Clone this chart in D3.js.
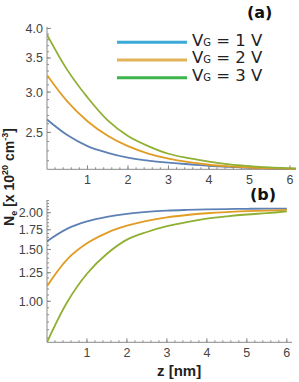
<!DOCTYPE html>
<html>
<head>
<meta charset="utf-8">
<script src="https://cdn.jsdelivr.net/npm/d3@7"></script>
<style>
  body { margin: 0; background: #fff; }
  svg { display: block; }
  .tick-label { font-family: "Liberation Sans", Arial, sans-serif; font-size: 12.5px; fill: #444; }
  .bold { font-family: "Liberation Sans", Arial, sans-serif; font-weight: bold; fill: #222; }
  .panel { font-family: "DejaVu Sans", sans-serif; font-weight: bold; font-size: 16px; fill: #111; }
  .legend { font-family: "DejaVu Sans", sans-serif; font-size: 16.5px; fill: #222; }
</style>
</head>
<body>
<svg id="chart" width="299" height="382"></svg>
<script>
// data
const zTop = [0, 0.5, 1, 1.5, 2, 2.5, 3, 3.5, 4, 4.5, 5, 5.5, 6, 6.15];
const topV1 = [2.65, 2.47, 2.35, 2.28, 2.23, 2.20, 2.18, 2.165, 2.15, 2.14, 2.13, 2.125, 2.12, 2.118];
const topV2 = [3.24, 2.876, 2.63, 2.462, 2.349, 2.272, 2.22, 2.185, 2.16, 2.144, 2.133, 2.126, 2.121, 2.12];
const topV3 = [3.89, 3.317, 2.929, 2.64, 2.46, 2.35, 2.27, 2.225, 2.19, 2.164, 2.147, 2.135, 2.127, 2.125];

const zBottom = [0, 0.5, 1, 1.5, 2, 2.5, 3, 3.5, 4, 4.5, 5, 5.5, 6];
const botV1 = [1.60, 1.762, 1.868, 1.937, 1.983, 2.013, 2.033, 2.045, 2.054, 2.059, 2.063, 2.065, 2.067];
const botV2 = [1.125, 1.386, 1.574, 1.709, 1.807, 1.878, 1.929, 1.965, 1.992, 2.011, 2.024, 2.034, 2.045];
const botV3 = [0.725, 0.99, 1.24, 1.45, 1.62, 1.72, 1.80, 1.86, 1.91, 1.945, 1.973, 1.994, 2.02];

const xTicks = [1, 2, 3, 4, 5, 6];
const topYTicks = [2.5, 3.0, 3.5, 4.0];
const botYTicks = [1.00, 1.25, 1.50, 1.75, 2.00];
const legendLabels = ["1", "2", "3"];

const lineColors = ["#5e81b5", "#e19c24", "#8fb032"];
const legendColors = ["#3ba9d8", "#e2b356", "#3cb54a"];

const svg = d3.select("#chart");
const axisColor = "#8a8a8a";

function panel(opts) {
  const g = svg.append("g");
  const x = d3.scaleLinear().domain(opts.xDomain).range(opts.xRange);
  const y = d3.scaleLog().domain(opts.yDomain).range(opts.yRange);

  const clipId = "clip" + opts.id;
  svg.append("clipPath").attr("id", clipId)
    .append("rect")
    .attr("x", opts.xRange[0]).attr("y", opts.yRange[1] - 2)
    .attr("width", opts.xRange[1] - opts.xRange[0] + 2)
    .attr("height", opts.yRange[0] - opts.yRange[1] + 3);

  // axes lines
  g.append("line").attr("x1", opts.xRange[0]).attr("x2", opts.xRange[0])
    .attr("y1", opts.yRange[0]).attr("y2", opts.yRange[1])
    .attr("stroke", axisColor).attr("stroke-width", 1);
  g.append("line").attr("x1", opts.xRange[0]).attr("x2", opts.xRange[1])
    .attr("y1", opts.yRange[0]).attr("y2", opts.yRange[0])
    .attr("stroke", axisColor).attr("stroke-width", 1);

  // x ticks
  const xMinor = d3.range(0.2, opts.xDomain[1] + 0.001, 0.2);
  g.selectAll(".xminor").data(xMinor).enter().append("line")
    .attr("x1", d => x(d)).attr("x2", d => x(d))
    .attr("y1", opts.yRange[0]).attr("y2", opts.yRange[0] - 2)
    .attr("stroke", axisColor);
  g.selectAll(".xmajor").data(xTicks).enter().append("line")
    .attr("x1", d => x(d)).attr("x2", d => x(d))
    .attr("y1", opts.yRange[0]).attr("y2", opts.yRange[0] - 4)
    .attr("stroke", axisColor);
  g.selectAll(".xlab").data(xTicks).enter().append("text")
    .attr("class", "tick-label")
    .attr("x", d => x(d)).attr("y", opts.yRange[0] + 14.5)
    .attr("text-anchor", "middle")
    .text(d => d);

  // y ticks
  const yMinor = d3.range(opts.minorStart, opts.yDomain[1], opts.minorStep)
    .filter(d => d >= opts.yDomain[0]);
  g.selectAll(".yminor").data(yMinor).enter().append("line")
    .attr("x1", opts.xRange[0]).attr("x2", opts.xRange[0] + 2)
    .attr("y1", d => y(d)).attr("y2", d => y(d))
    .attr("stroke", axisColor);
  g.selectAll(".ymajor").data(opts.yTicks).enter().append("line")
    .attr("x1", opts.xRange[0]).attr("x2", opts.xRange[0] + 4)
    .attr("y1", d => y(d)).attr("y2", d => y(d))
    .attr("stroke", axisColor);
  g.selectAll(".ylab").data(opts.yTicks).enter().append("text")
    .attr("class", "tick-label")
    .attr("x", opts.xRange[0] - 4).attr("y", d => y(d) + 4.5)
    .attr("text-anchor", "end")
    .text(d => d.toFixed(opts.digits));

  const line = d3.line()
    .x(d => x(d[0])).y(d => y(d[1]))
    .curve(d3.curveCatmullRom.alpha(0.5));

  opts.series.forEach((vals, i) => {
    g.append("path")
      .datum(opts.z.map((z, k) => [z, vals[k]]))
      .attr("clip-path", "url(#" + clipId + ")")
      .attr("fill", "none")
      .attr("stroke", lineColors[i])
      .attr("stroke-width", 1.8)
      .attr("d", line);
  });
}

panel({
  id: "a",
  xDomain: [0, 6.15], xRange: [47, 296],
  yDomain: [2.116, 4.03], yRange: [169.3, 26.8],
  yTicks: topYTicks, digits: 1,
  minorStart: 2.2, minorStep: 0.1,
  z: zTop, series: [topV1, topV2, topV3]
});

panel({
  id: "b",
  xDomain: [0, 6.13], xRange: [47, 292],
  yDomain: [0.725, 2.21], yRange: [342.3, 200],
  yTicks: botYTicks, digits: 2,
  minorStart: 0.75, minorStep: 0.05,
  z: zBottom, series: [botV1, botV2, botV3]
});

// legend
const leg = svg.append("g");
legendLabels.forEach((lab, i) => {
  const yy = 42.3 + i * 17.7;
  leg.append("line")
    .attr("x1", 117).attr("x2", 187)
    .attr("y1", yy).attr("y2", yy)
    .attr("stroke", legendColors[i]).attr("stroke-width", 3);
  const t = leg.append("text").attr("class", "legend")
    .attr("x", 192).attr("y", yy + 3.2);
  t.append("tspan").text("V");
  t.append("tspan").attr("font-size", "10px").text("G");
  t.append("tspan").text(" = " + lab + " V");
});

// panel labels
svg.append("text").attr("class", "panel").attr("x", 247).attr("y", 18).text("(a)");
svg.append("text").attr("class", "panel").attr("x", 250).attr("y", 200).text("(b)");

// axis titles
svg.append("text").attr("class", "bold").attr("font-size", "15px")
  .attr("x", 157).attr("y", 376).text("z [nm]");

const yl = svg.append("text").attr("class", "bold").attr("font-size", "14px")
  .attr("transform", "translate(14,177) rotate(-90)")
  .attr("text-anchor", "middle");
yl.append("tspan").text("N");
yl.append("tspan").attr("font-size", "9px").attr("dy", 3).text("e");
yl.append("tspan").attr("dy", -3).text(" [x 10");
yl.append("tspan").attr("font-size", "9px").attr("dy", -6).text("20");
yl.append("tspan").attr("dy", 6).text(" cm");
yl.append("tspan").attr("font-size", "9px").attr("dy", -6).text("-3");
yl.append("tspan").attr("dy", 6).text("]");
</script>
</body>
</html>
